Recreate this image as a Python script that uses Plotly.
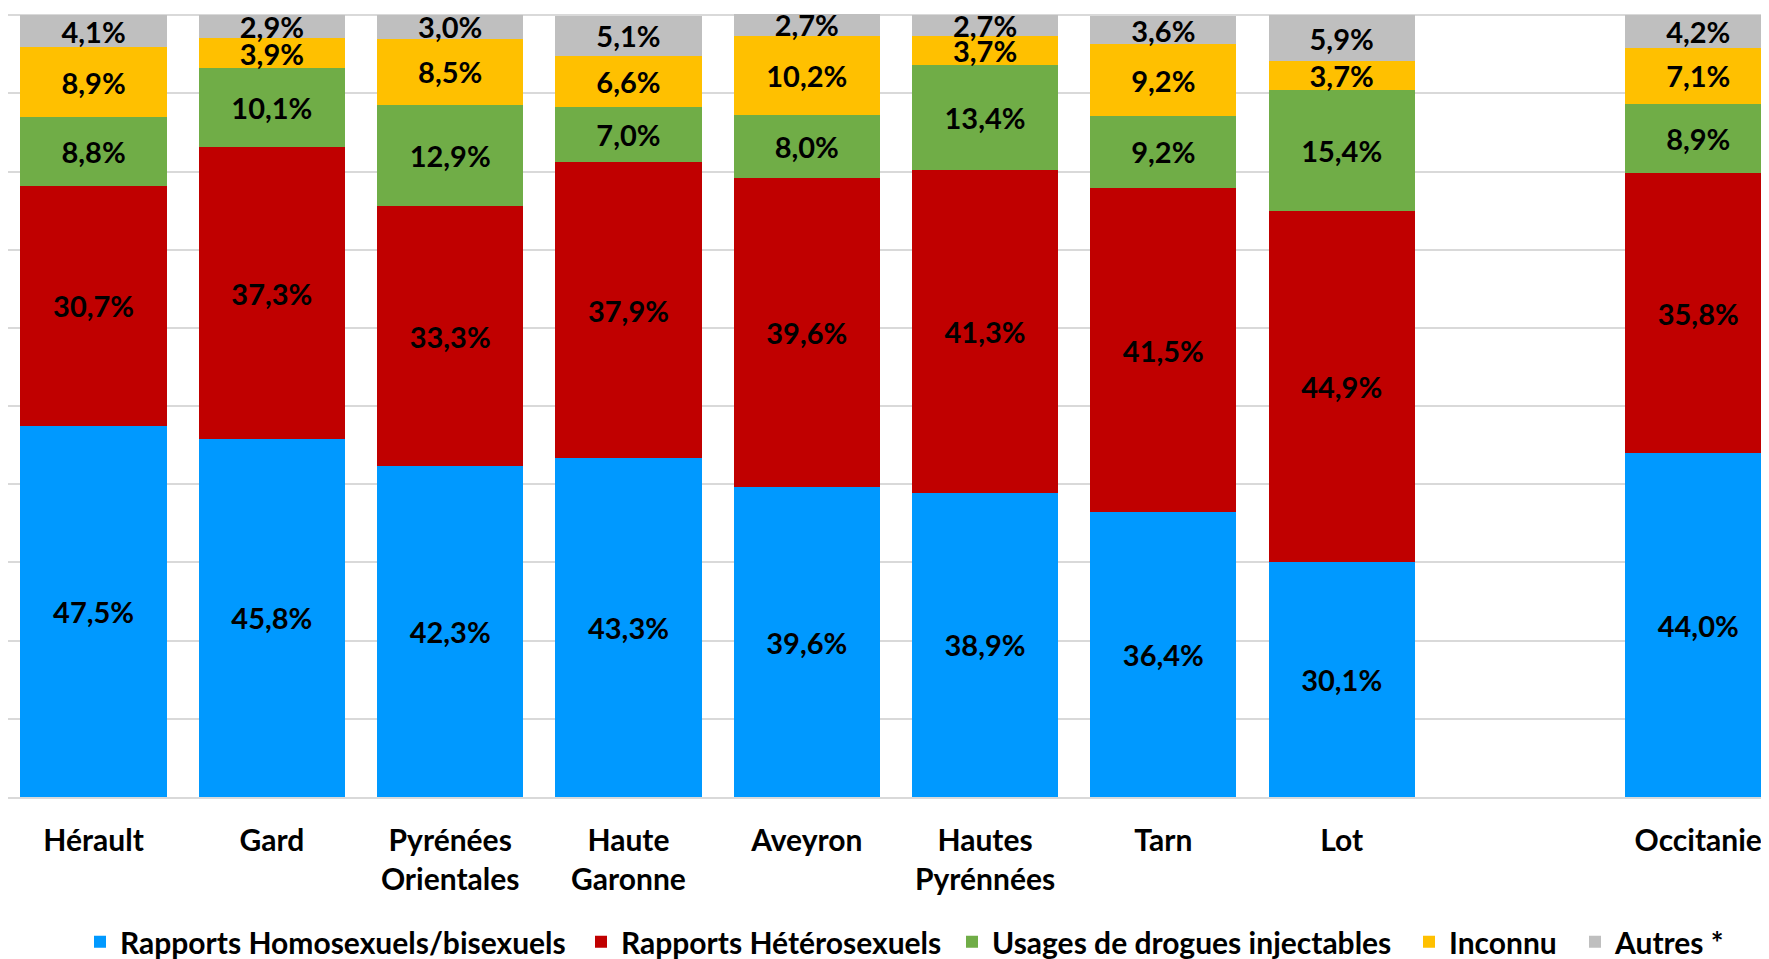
import plotly.graph_objects as go

categories = ["Hérault", "Gard", "Pyrénées Orientales", "Haute Garonne", "Aveyron",
              "Hautes Pyrénnées", "Tarn", "Lot", " ", "Occitanie"]
tick_labels = ["Hérault", "Gard", "Pyrénées<br>Orientales", "Haute<br>Garonne", "Aveyron",
               "Hautes<br>Pyrénnées", "Tarn", "Lot", "", "Occitanie"]

homo = [47.5, 45.8, 42.3, 43.3, 39.6, 38.9, 36.4, 30.1, None, 44.0]
hetero = [30.7, 37.3, 33.3, 37.9, 39.6, 41.3, 41.5, 44.9, None, 35.8]
udi = [8.8, 10.1, 12.9, 7.0, 8.0, 13.4, 9.2, 15.4, None, 8.9]
inconnu = [8.9, 3.9, 8.5, 6.6, 10.2, 3.7, 9.2, 3.7, None, 7.1]
autres = [4.1, 2.9, 3.0, 5.1, 2.7, 2.7, 3.6, 5.9, None, 4.2]

series_names = ["Rapports Homosexuels/bisexuels", "Rapports Hétérosexuels",
                "Usages de drogues injectables", "Inconnu", "Autres *"]
series_values = [homo, hetero, udi, inconnu, autres]
series_colors = ["#0099FF", "#C00000", "#70AD47", "#FFC000", "#BFBFBF"]

FONT = "Lato"
W, H = 1761, 951
legend_left_px = [80, 581, 952, 1409, 1575]  # left edge of each legend entry (page px)
legend_ids = ["legend", "legend2", "legend3", "legend4", "legend5"]

fig = go.Figure()
for name, vals, color, lid in zip(series_names, series_values, series_colors, legend_ids):
    fig.add_trace(go.Bar(
        x=categories, y=vals, name=name, legend=lid,
        marker=dict(color=color, line=dict(width=0)),
        texttemplate="%{y:.1f}%", textposition="inside",
        insidetextanchor="middle", constraintext="none",
        textfont=dict(family=FONT, size=29, color="black", weight="bold"),
        cliponaxis=False,
    ))

legend_common = dict(orientation="h", xanchor="left", y=-0.185, yanchor="middle",
                     font=dict(family=FONT, size=30, color="black", weight="bold"),
                     bgcolor="rgba(0,0,0,0)")
layout_legends = {}
for lid, px in zip(legend_ids, legend_left_px):
    layout_legends[lid] = dict(legend_common, x=(px - 8) / W)

fig.update_layout(
    barmode="stack",
    bargap=0.18,
    width=W, height=H,
    margin=dict(l=0, r=0, t=6, b=162, autoexpand=False),
    plot_bgcolor="white", paper_bgcolor="white",
    separators=", ",
    uniformtext=dict(minsize=29, mode="show"),
    font=dict(family=FONT, size=28, color="black"),
    showlegend=True,
    xaxis=dict(type="category", categoryorder="array", categoryarray=categories,
               tickmode="array", tickvals=categories, ticktext=tick_labels,
               range=[-0.48, 9.397], showgrid=False, showline=True, linecolor="#D9D9D9",
               linewidth=1.5, ticks="", ticklabelstandoff=16, automargin=False,
               tickfont=dict(family=FONT, size=30, color="black", weight="bold")),
    yaxis=dict(range=[0, 100.15], dtick=10, showgrid=True, gridcolor="#D9D9D9", gridwidth=1.5,
               showticklabels=False, zeroline=False, showline=False, automargin=False),
    **layout_legends,
)

fig.write_html("out.html")
